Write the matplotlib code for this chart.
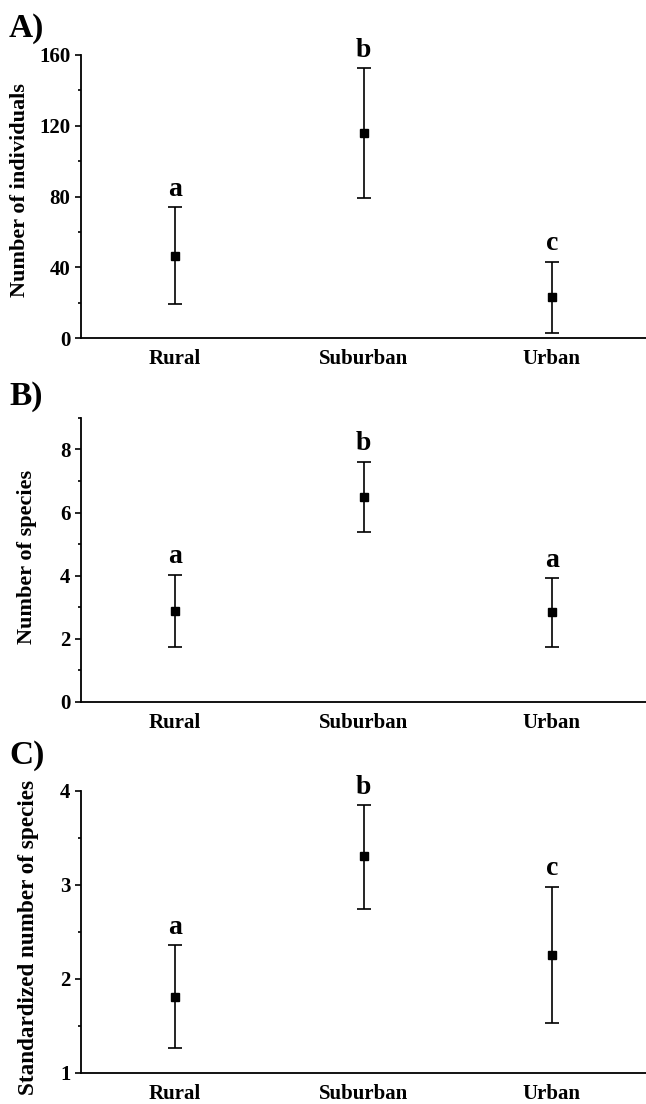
import matplotlib
matplotlib.use("Agg")
import matplotlib.pyplot as plt
from matplotlib.ticker import MultipleLocator

plt.rcParams['font.family'] = ['Liberation Serif', 'DejaVu Serif']
plt.rcParams['font.weight'] = 'bold'

categories = ["Rural", "Suburban", "Urban"]

# Panel A: Number of individuals
a_mean = [46.4, 115.7, 23.4]
a_upper = [74.0, 152.4, 43.1]
a_lower = [19.0, 79.3, 3.0]
a_letters = ["a", "b", "c"]

# Panel B: Number of species
b_mean = [2.89, 6.50, 2.83]
b_upper = [4.03, 7.61, 3.92]
b_lower = [1.75, 5.38, 1.72]
b_letters = ["a", "b", "a"]

# Panel C: Standardized number of species
c_mean = [1.80, 3.30, 2.25]
c_upper = [2.355, 3.845, 2.98]
c_lower = [1.26, 2.745, 1.525]
c_letters = ["a", "b", "c"]

panels = [
    dict(tag="A)", ylabel="Number of individuals", mean=a_mean, upper=a_upper,
         lower=a_lower, letters=a_letters, ylim=(0, 160), major=40, minor=20,
         rect=[0.1254, 0.6938, 0.8746, 0.2564], tag_y=0.988,
         lab_xy=(-0.108, 0.523), lab_fs=16),
    dict(tag="B)", ylabel="Number of species", mean=b_mean, upper=b_upper,
         lower=b_lower, letters=b_letters, ylim=(0, 9), major=2, minor=1,
         rect=[0.1254, 0.3644, 0.8746, 0.2570], tag_y=0.655,
         lab_xy=(-0.0956, 0.51), lab_fs=16),
    dict(tag="C)", ylabel="Standardized number of species", mean=c_mean, upper=c_upper,
         lower=c_lower, letters=c_letters, ylim=(1, 4), major=1, minor=0.5,
         rect=[0.1254, 0.02835, 0.8746, 0.2555], tag_y=0.330,
         lab_xy=(-0.093, 0.478), lab_fs=16.7),
]

fig = plt.figure(figsize=(6.46, 11.04), dpi=100)
xs = list(range(1, len(categories) + 1))

for p in panels:
    ax = fig.add_axes(p["rect"])
    yerr = [[m - l for m, l in zip(p["mean"], p["lower"])],
            [u - m for m, u in zip(p["mean"], p["upper"])]]
    ax.errorbar(xs, p["mean"], yerr=yerr, fmt='s', color='black', ms=6,
                elinewidth=1.2, capsize=4.8, capthick=1.2, ecolor='black')
    for x, u, t in zip(xs, p["upper"], p["letters"]):
        ax.annotate(t, xy=(x, u), xytext=(0, 4), textcoords='offset points',
                    ha='center', va='bottom', fontsize=20, fontweight='bold')
    ax.set_xlim(0.5, 3.5)
    ax.set_ylim(*p["ylim"])
    ax.set_xticks(xs)
    ax.set_xticklabels(categories, fontsize=15, fontweight='bold')
    ax.tick_params(axis='x', length=0, pad=8)
    ax.yaxis.set_major_locator(MultipleLocator(p["major"]))
    ax.yaxis.set_minor_locator(MultipleLocator(p["minor"]))
    ax.tick_params(axis='y', which='major', length=4.5, width=1.2, labelsize=15, pad=3)
    ax.tick_params(axis='y', which='minor', length=2.5, width=1.2)
    for lab in ax.get_yticklabels():
        lab.set_fontweight('bold')
    ax.set_ylabel(p["ylabel"], fontsize=p["lab_fs"], fontweight='bold')
    ax.yaxis.set_label_coords(*p["lab_xy"])
    ax.yaxis.label.set_verticalalignment('center')
    for s in ["top", "right"]:
        ax.spines[s].set_visible(False)
    for s in ["left", "bottom"]:
        ax.spines[s].set_linewidth(1.3)
    fig.text(0.014, p["tag_y"], p["tag"], fontsize=24, fontweight='bold',
             ha='left', va='top')

fig.savefig("out.png", dpi=100)
